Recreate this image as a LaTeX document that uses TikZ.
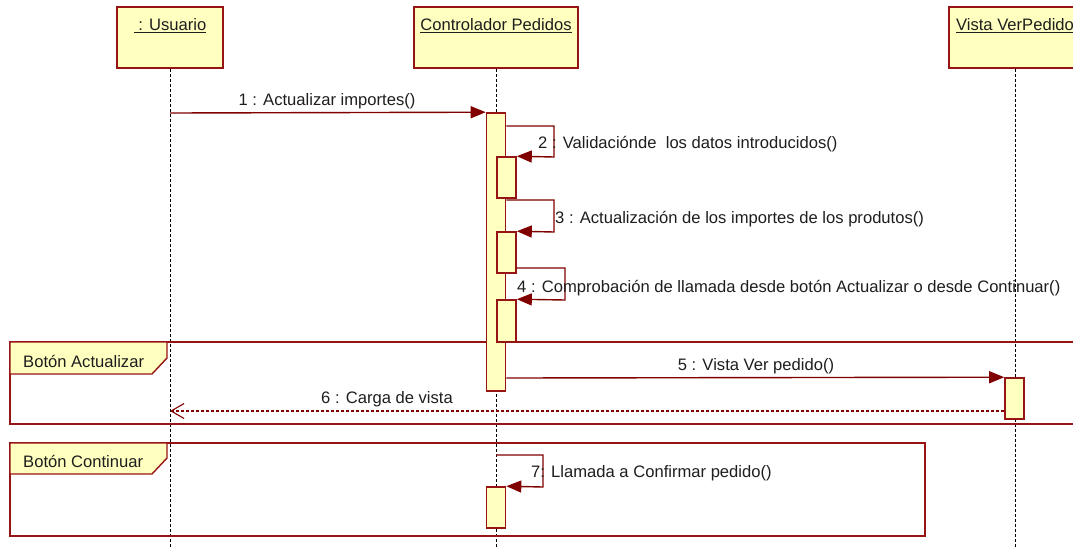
\documentclass[tikz,border=0pt]{standalone}
\usepackage{fontspec}
\setmainfont{Liberation Sans}
\usetikzlibrary{arrows.meta}
\definecolor{umlfill}{RGB}{255,255,192}
\definecolor{umlline}{RGB}{150,20,20}
\definecolor{umlarrow}{RGB}{128,0,0}
\definecolor{umltext}{RGB}{30,30,30}
\begin{document}
\begin{tikzpicture}[x=1pt,y=-1pt,
  font=\fontsize{16.6}{19}\selectfont,
  headbox/.style={draw=umlline, line width=1.6pt, fill=umlfill, inner sep=0pt, minimum height=61pt},
  headtxt/.style={inner sep=0pt, text=umltext},
  lifeline/.style={draw=black, line width=0.9pt, dash pattern=on 3pt off 2pt},
  actbar/.style={draw=umlline, line width=1.6pt, fill=umlfill, inner sep=0pt, minimum width=19pt},
  msg/.style={draw=umlarrow, line width=1.4pt, -{Triangle[length=15pt,width=12pt]}},
  retmsg/.style={draw=umlarrow, line width=1.1pt, dash pattern=on 3pt off 2pt, -{Straight Barb[length=13pt,width=15pt,line width=1.1pt]}},
  lbl/.style={inner sep=0pt, text=umltext},
  framebox/.style={draw=umlline, line width=1.4pt},
  frametab/.style={draw=umlline, line width=1.4pt, fill=umlfill},
]
\clip (0,0) rectangle (1073,547);

% lifeline heads
\node[headbox, minimum width=106pt] (Ubox) at (170,37.5) {};
\node[headbox, minimum width=164pt] (Cbox) at (496,37.5) {};
\node[headbox, minimum width=132pt] (Vbox) at (1015,37.5) {};
\node[headtxt] (Utxt) at (170,26) {\underline{\ : Usuario}};
\node[headtxt] (Ctxt) at (496,26) {\underline{Controlador Pedidos}};
\node[headtxt] (Vtxt) at (1015,26) {\underline{Vista VerPedido}};

% lifelines
\coordinate (Uend) at (170,547);
\coordinate (Cend) at (496,547);
\coordinate (Vend) at (1015,547);
\draw[lifeline] (Ubox.south) -- (Uend);
\draw[lifeline] (Cbox.south) -- (Cend);
\draw[lifeline] (Vbox.south) -- (Vend);

% combined fragments
\draw[framebox] (10,342) rectangle (1090,424);
\draw[frametab] (10,342) -- (167,342) -- (167,358) -- (152,374) -- (10,374) -- cycle;
\node[lbl, anchor=west] (F1) at (23,361) {Botón Actualizar};
\draw[framebox] (10,443) rectangle (925,536);
\draw[frametab] (10,443) -- (167,443) -- (167,458) -- (152,474) -- (10,474) -- cycle;
\node[lbl, anchor=west] (F2) at (23,461) {Botón Continuar};

% activation bars
\node[actbar, minimum height=278pt] (A0) at (496,252) {};
\node[actbar, minimum height=41pt] (A2) at (506.5,177.5) {};
\node[actbar, minimum height=41pt] (A3) at (506.5,252.5) {};
\node[actbar, minimum height=42pt] (A4) at (506.5,321) {};
\node[actbar, minimum height=41pt] (A7) at (496,507.5) {};
\node[actbar, minimum height=41pt] (AV) at (1014.5,398.5) {};

% messages
\coordinate (m1s) at (170,113);
\draw[msg] (m1s) -- (A0.north west);
\node[lbl] (L1) at (327,101) {1 : Actualizar importes()};

\draw[msg] (A0.east |- 0,126) -- (554,126) -- (554,157) -- (A2.north east);
\node[lbl, anchor=west] (L2) at (538,144) {2 : Validaciónde\ \ los datos introducidos()};

\draw[msg] (A0.east |- 0,200) -- (554,200) -- (554,232) -- (A3.north east);
\node[lbl, anchor=west] (L3) at (555,219) {3 : Actualización de los importes de los produtos()};

\draw[msg] (A3.east |- 0,268) -- (565,268) -- (565,300) -- (A4.north east);
\node[lbl, anchor=west] (L4) at (517,288) {4 : Comprobación de llamada desde botón Actualizar o desde Continuar()};

\draw[msg] (A0.east |- 0,378) -- (AV.north west);
\node[lbl] (L5) at (756,366) {5 : Vista Ver pedido()};

\coordinate (m6e) at (170,411);
\draw[retmsg] (AV.west |- 0,411) -- (m6e);
\node[lbl] (L6) at (387,399) {6 : Carga de vista};

\coordinate (m7s) at (496,455);
\draw[msg] (m7s) -- (543,455) -- (543,487) -- (A7.north east);
\node[lbl, anchor=west] (L7) at (531,473) {7: Llamada a Confirmar pedido()};
\end{tikzpicture}
\end{document}
